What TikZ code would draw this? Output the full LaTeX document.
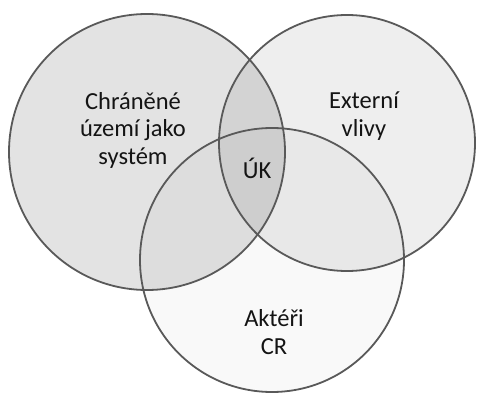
\documentclass[tikz,border=0pt]{standalone}
\usepackage{fontspec}
\setmainfont{Carlito}
\begin{document}
\begin{tikzpicture}[x=1pt,y=-1pt,
  ring/.style={draw=black!65, line width=1.8pt},
  lbl/.style={align=center, font=\fontsize{24.5}{27.5}\selectfont, text=black!92, inner sep=0pt}]
\useasboundingbox (0,0) rectangle (477,393);
% fills
\fill[fill=black!11] (147,152) circle[radius=138];
\fill[fill=black, fill opacity=0.065] (347,143) circle[radius=128];
\fill[fill=black, fill opacity=0.025] (272,260) circle[radius=132];
% outlines
\draw[ring] (147,152) circle[radius=138];
\draw[ring] (347,143) circle[radius=128];
\draw[ring] (272,260) circle[radius=132];
% labels
\node[lbl] (cu) at (133,130) {Chráněné\\území jako\\systém};
\node[lbl] (ev) at (364,116) {Externí\\vlivy};
\node[lbl] (uk) at (257,168) {ÚK};
\node[lbl] (ak) at (274,332) {Aktéři\\CR};
\end{tikzpicture}
\end{document}
